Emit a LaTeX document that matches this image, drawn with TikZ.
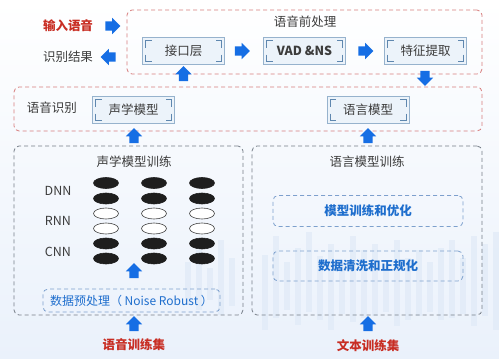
\documentclass[tikz,border=0pt]{standalone}
\usepackage{fontspec}
\setmainfont{Noto Sans CJK SC}
\usetikzlibrary{shapes.arrows,shapes.geometric}
\definecolor{redash}{RGB}{215,125,125}
\definecolor{greydash}{RGB}{118,126,136}
\definecolor{arrowblue}{RGB}{22,110,228}
\definecolor{boxline}{RGB}{150,178,205}
\definecolor{boxfill}{RGB}{236,243,250}
\definecolor{cornerc}{RGB}{95,135,175}
\definecolor{txt}{RGB}{60,60,60}
\definecolor{redtxt}{RGB}{200,45,35}
\definecolor{bluetxt}{RGB}{30,110,205}
\definecolor{bluedash}{RGB}{125,160,205}
\definecolor{ellfill}{RGB}{30,30,30}
\definecolor{barc}{RGB}{224,234,247}
\tikzset{
  reddash/.style={draw=redash, dash pattern=on 4pt off 3pt, rounded corners=5pt, line width=0.8pt, inner sep=0pt},
  greyframe/.style={draw=greydash, dash pattern=on 4pt off 3pt, rounded corners=5pt, line width=0.8pt, inner sep=0pt},
  bluebox/.style={draw=bluedash, dash pattern=on 4pt off 3pt, rounded corners=5pt, line width=0.8pt, inner sep=0pt, text=bluetxt},
  modbox/.style={draw=boxline, fill=boxfill, line width=0.8pt, minimum width=82pt, minimum height=27pt, inner sep=0pt,
    font=\fontsize{12.5}{14}\selectfont, text=txt,
    path picture={
      \draw[cornerc, line width=0.9pt]
        ([shift={(3pt,-10pt)}]path picture bounding box.north west) -- ++(0pt,7pt) -- ++(6pt,0pt)
        ([shift={(-3pt,-10pt)}]path picture bounding box.north east) -- ++(0pt,7pt) -- ++(-6pt,0pt)
        ([shift={(3pt,10pt)}]path picture bounding box.south west) -- ++(0pt,-7pt) -- ++(6pt,0pt)
        ([shift={(-3pt,10pt)}]path picture bounding box.south east) -- ++(0pt,-7pt) -- ++(-6pt,0pt);
    }},
  barrow/.style={single arrow, fill=arrowblue, draw=none, minimum height=15pt,
    single arrow head extend=3.5pt, single arrow tip angle=90, inner sep=0pt, outer sep=0pt},
  title/.style={font=\fontsize{12.5}{14}\selectfont, text=txt, inner sep=0pt},
  redlabel/.style={font=\fontsize{12.5}{14}\selectfont\bfseries, text=redtxt, inner sep=0pt},
  layerlab/.style={font=\fontsize{12.5}{14}\selectfont, text=txt, inner sep=0pt},
  fullell/.style={ellipse, fill=ellfill, draw=ellfill, line width=0.6pt, minimum width=25pt, minimum height=11pt, inner sep=0pt},
  openell/.style={ellipse, fill=white, draw=ellfill!85, line width=0.6pt, minimum width=25pt, minimum height=11pt, inner sep=0pt},
}
\newcommand{\shaftbox}{\rule{0pt}{0pt}\hbox to 9pt{\vrule width 0pt height 4.5pt depth 4.5pt\hfil}}
\begin{document}
\begin{tikzpicture}[x=1pt,y=-1pt]
\useasboundingbox (0,0) rectangle (499,359);
\shade[top color=white, bottom color={rgb,255:red,234;green,241;blue,251}] (0,0) rectangle (499,359);
% faint background bars
\foreach \x/\t/\b in {185/262/305, 196/250/310, 207/268/300, 218/240/315, 229/258/306, 262/255/330, 273/236/318, 284/262/310, 295/248/325, 306/232/312, 317/256/320, 328/244/330, 339/262/314, 350/236/322, 361/250/318, 372/244/316, 383/264/312, 394/240/326, 405/258/320, 416/250/316, 427/262/312, 438/248/320, 449/240/318, 460/258/314, 471/236/326, 482/244/316, 493/232/330}
  \fill[barc, opacity=0.7] (\x,\t) rectangle ++(6,\b-\t);

% ---------- top: pre-processing ----------
\node[reddash, minimum width=355pt, minimum height=64pt] (pre) at (304.5,42) {};
\node[title] (pretitle) at (305,22) {语音前处理};
\node[modbox] (iface) at (183.5,51) {接口层};
\node[modbox, font=\fontsize{12.5}{14}\selectfont\bfseries] (vad) at (304.5,51) {VAD \&NS};
\node[modbox] (feat) at (425.5,51) {特征提取};
\node[barrow] (a1) at (240,51) {\shaftbox};
\node[barrow] (a2) at (363.5,51) {\shaftbox};

\node[redlabel] (input) at (68,26) {输入语音};
\node[layerlab] (result) at (68,57) {识别结果};
\node[barrow] (ain) at (110.5,26) {\shaftbox};
\node[barrow, shape border rotate=180] (aout) at (110.5,57) {\shaftbox};

% ---------- recognition ----------
\node[reddash, minimum width=468pt, minimum height=44pt] (rec) at (248,109) {};
\node[layerlab] (reclab) at (52,108) {语音识别};
\node[modbox] (am) at (133.5,110) {声学模型};
\node[modbox] (lm) at (368,110) {语言模型};
\node[barrow, shape border rotate=90] (aup1) at (183.5,76) {\shaftbox};
\node[barrow, shape border rotate=270] (adown) at (425,76) {\shaftbox};
\node[barrow, shape border rotate=90] (aup2) at (134,138) {\shaftbox};
\node[barrow, shape border rotate=90] (aup3) at (368,138) {\shaftbox};

% ---------- acoustic training ----------
\node[greyframe, minimum width=229pt, minimum height=169pt] (amt) at (128.5,230.5) {};
\node[title] (amttitle) at (134,162) {声学模型训练};
\node[layerlab] (dnn) at (58,191) {DNN};
\node[layerlab] (rnn) at (58,221) {RNN};
\node[layerlab] (cnn) at (58,252) {CNN};
\foreach \c/\x in {1/106,2/154,3/202}{
  \node[fullell] (e\c a) at (\x,183) {};
  \node[fullell] (e\c b) at (\x,198.5) {};
  \node[openell] (e\c c) at (\x,213.5) {};
  \node[openell] (e\c d) at (\x,228.5) {};
  \node[fullell] (e\c e) at (\x,243.5) {};
  \node[fullell] (e\c f) at (\x,258.5) {};
}
\node[barrow, shape border rotate=90] (aup4) at (134,273) {\shaftbox};
\node[bluebox, minimum width=177pt, minimum height=23pt, font=\fontsize{12}{14}\selectfont] (prep) at (131.5,300.5) {数据预处理（ Noise Robust ）};
\node[barrow, shape border rotate=90] (aup5) at (134,326) {\shaftbox};
\node[redlabel] (speechset) at (134,345) {语音训练集};

% ---------- language model training ----------
\node[greyframe, minimum width=230pt, minimum height=169pt] (lmt) at (367,230.5) {};
\node[title] (lmttitle) at (367,162) {语言模型训练};
\node[bluebox, minimum width=190pt, minimum height=31pt, font=\fontsize{12.5}{14}\selectfont\bfseries] (opt) at (368,211) {模型训练和优化};
\node[bluebox, minimum width=190pt, minimum height=30pt, font=\fontsize{12.5}{14}\selectfont\bfseries] (clean) at (368,266) {数据清洗和正规化};
\node[barrow, shape border rotate=90] (aup6) at (368,326) {\shaftbox};
\node[redlabel] (textset) at (368,346) {文本训练集};
\end{tikzpicture}
\end{document}
